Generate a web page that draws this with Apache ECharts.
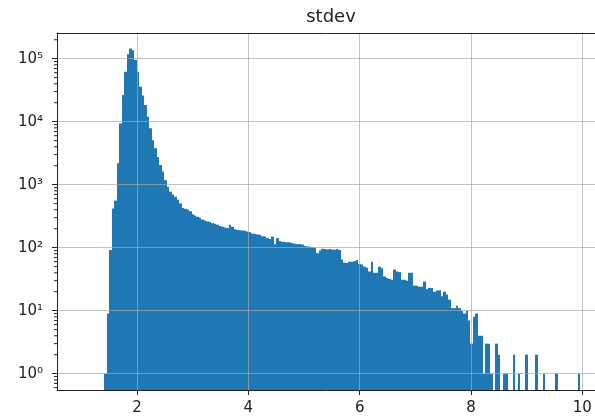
<!DOCTYPE html>
<html>
<head>
<meta charset="utf-8">
<script src="https://cdn.jsdelivr.net/npm/echarts@6/dist/echarts.min.js"></script>
<style>
html,body{margin:0;padding:0;background:#fff;}
#chart{width:595px;height:418px;}
</style>
</head>
<body>
<div id="chart"></div>
<script>
// Histogram of "stdev": 200 equal bins between histMin and histMax
const chartTitle = 'stdev';
const histMin = 1.01;
const histMax = 9.96;
const binCount = 200;
const counts = [
  0,0,0,0,0,0,0,0,0,1,
  9,92,420,560,2200,9400,26500,62000,118000,145000,
  136000,95000,62000,36000,26000,18500,12000,7900,5100,3800,
  2760,2050,1620,1180,930,775,700,645,575,505,
  425,415,405,380,340,325,310,300,280,270,
  262,255,245,240,232,222,215,210,205,232,
  215,196,192,190,188,185,180,178,168,165,
  163,160,152,150,142,138,150,113,142,128,
  124,123,122,122,118,116,114,115,112,106,
  105,104,102,100,82,90,96,95,94,95,
  94,93,95,92,65,58,57,60,60,61,
  64,55,54,50,48,42,60,40,40,50,
  47,35,33,32,31,45,42,41,31,31,
  30,40,40,25,25,24,24,29,22,23,
  23,20,21,21,17,20,18,15,11,11,
  12,11,10,9,10,7,3,8,9,4,
  4,1,3,3,1,0,3,2,0,1,
  1,0,0,2,0,1,0,0,2,0,
  0,0,2,0,0,1,0,0,0,0,
  1,0,0,0,0,0,0,0,0,1
];
const xTicks = [2, 4, 6, 8, 10];
const yTicks = [1, 10, 100, 1000, 10000, 100000];
const yMinorTicks = [0.6,0.7,0.8,0.9,
  2,3,4,5,6,7,8,9, 20,30,40,50,60,70,80,90,
  200,300,400,500,600,700,800,900, 2000,3000,4000,5000,6000,7000,8000,9000,
  20000,30000,40000,50000,60000,70000,80000,90000, 200000];

// axis limits (matplotlib 5% x-margins)
const span = histMax - histMin;
const xMin = histMin - 0.05 * span;
const xMax = histMax + 0.05 * span;
const yMin = 0.551;
const yMax = 2.56e5;

const binW = span / binCount;
const data = [];
counts.forEach((c, i) => {
  if (c > 0) data.push([histMin + i * binW, histMin + (i + 1) * binW, c]);
});
const minorData = yMinorTicks.map(v => [xMin, v]);

const sup = {'0':'\u2070','1':'\u00b9','2':'\u00b2','3':'\u00b3','4':'\u2074','5':'\u2075','6':'\u2076','7':'\u2077','8':'\u2078','9':'\u2079'};
function logLabel(v) {
  const e = Math.round(Math.log10(v));
  return '10' + String(e).split('').map(d => sup[d] || d).join('');
}

const font = 'DejaVu Sans';
const gridColor = 'rgba(168,168,168,0.7)';
const spineColor = '#222';
const barColor = '#1f77b4';

const chart = echarts.init(document.getElementById('chart'), null, {renderer: 'canvas'});
chart.setOption({
  animation: false,
  backgroundColor: '#fff',
  title: {
    text: chartTitle,
    left: 331, top: 8, textAlign: 'center', padding: 0,
    textStyle: {fontFamily: font, fontSize: 18, fontWeight: 'normal', color: '#222'}
  },
  grid: {left: 57, top: 33, width: 548, height: 357, containLabel: false, outerBoundsMode: 'none'},
  xAxis: [{
    type: 'value', min: xMin, max: xMax, splitNumber: 5, z: 5,
    axisLine: {show: true, lineStyle: {color: spineColor, width: 1}},
    axisTick: {show: true, length: 5, customValues: xTicks, lineStyle: {color: spineColor}},
    axisLabel: {customValues: xTicks, margin: 11, fontFamily: font, fontSize: 15, color: '#222'},
    splitLine: {show: true, lineStyle: {color: gridColor, width: 1}}
  }, {
    type: 'value', position: 'top', min: xMin, max: xMax, z: 5,
    axisLine: {show: true, onZero: false, lineStyle: {color: spineColor, width: 1}},
    axisTick: {show: false}, axisLabel: {show: false}, splitLine: {show: false}
  }],
  yAxis: [{
    type: 'log', logBase: 10, min: yMin, max: yMax, z: 5,
    axisLine: {show: true, lineStyle: {color: spineColor, width: 1}},
    axisTick: {show: true, length: 5, customValues: yTicks, lineStyle: {color: spineColor}},
    axisLabel: {customValues: yTicks, margin: 14, fontFamily: font, fontSize: 15, color: '#222',
      formatter: logLabel},
    splitLine: {show: true, lineStyle: {color: gridColor, width: 1}}
  }],
  series: [{
    type: 'custom',
    xAxisIndex: 0, yAxisIndex: 0, z: 2,
    data: data,
    encode: {x: [0, 1], y: 2},
    renderItem: function (params, api) {
      const p0 = api.coord([api.value(0), api.value(2)]);
      const p1 = api.coord([api.value(1), yMin]);
      const x0 = Math.round(p0[0]), x1 = Math.round(p1[0]);
      return {
        type: 'rect',
        shape: {x: x0, y: p0[1], width: x1 - x0, height: p1[1] - p0[1]},
        style: {fill: barColor}
      };
    }
  }, {
    type: 'custom',
    xAxisIndex: 0, yAxisIndex: 0, z: 6, clip: false, silent: true,
    data: minorData,
    encode: {x: 0, y: 1},
    renderItem: function (params, api) {
      const p = api.coord([api.value(0), api.value(1)]);
      return {
        type: 'line',
        shape: {x1: p[0] - 3, y1: p[1], x2: p[0], y2: p[1]},
        style: {stroke: spineColor, lineWidth: 1}
      };
    }
  }]
});
</script>
</body>
</html>
